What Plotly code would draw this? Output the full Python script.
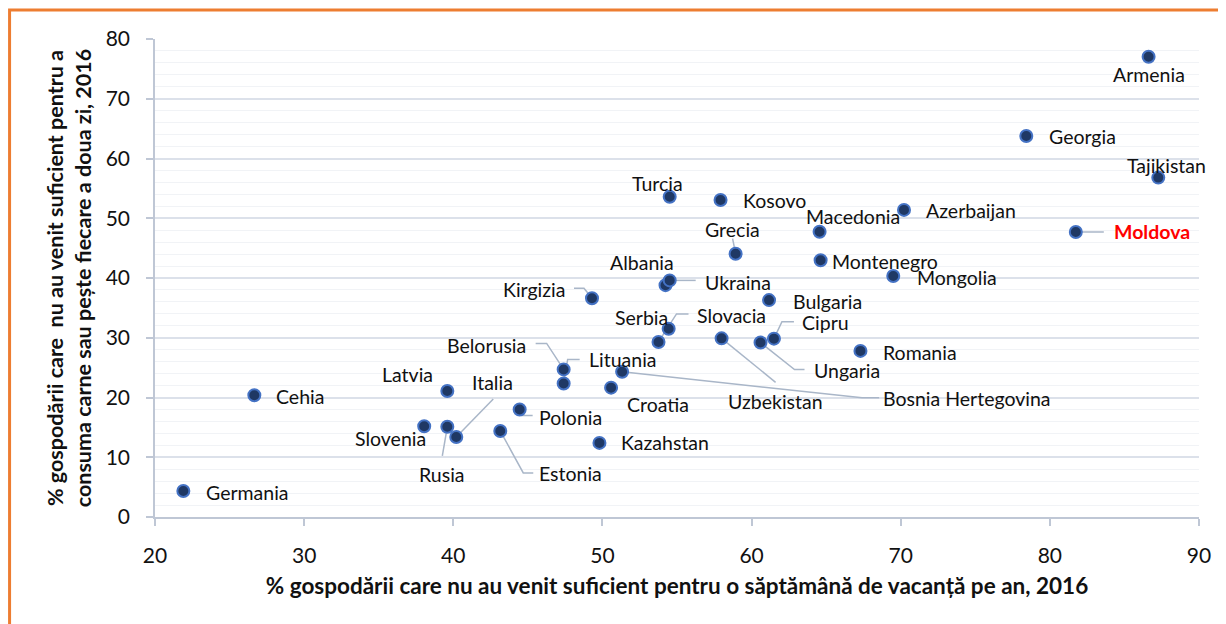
import plotly.graph_objects as go

countries = ["Germania", "Cehia", "Latvia", "Slovenia", "Rusia", "Italia", "Estonia",
             "Polonia", "Belorusia", "Lituania", "Croatia", "Bosnia Hertegovina",
             "Kazahstan", "Slovacia", "Serbia", "Uzbekistan", "Ungaria", "Cipru",
             "Bulgaria", "Kirgizia", "Albania", "Ukraina", "Grecia", "Turcia", "Kosovo",
             "Macedonia", "Montenegro", "Mongolia", "Azerbaijan", "Georgia", "Armenia",
             "Tajikistan", "Moldova", "Romania"]
vacation = [21.9, 26.66, 39.6, 38.05, 39.6, 40.2, 43.15,
            44.45, 47.4, 47.4, 50.58, 51.32,
            49.8, 53.76, 54.44, 57.99, 60.6, 61.5,
            61.17, 49.3, 54.23, 54.51, 58.93, 54.51, 57.92,
            64.56, 64.63, 69.5, 70.22, 78.42, 86.62,
            87.27, 81.74, 67.3]
meat = [4.35, 20.37, 21.1, 15.2, 15.1, 13.4, 14.4,
        18.0, 24.7, 22.35, 21.65, 24.3,
        12.4, 29.3, 31.5, 29.9, 29.2, 29.85,
        36.3, 36.6, 38.8, 39.6, 44.07, 53.6, 53.05,
        47.75, 42.96, 40.33, 51.4, 63.77, 77.04,
        56.8, 47.7, 27.8]

# label placement (pixel offsets of label centre from its point; y downwards)
label_offsets = {
    "Germania": (64, 1), "Cehia": (46, 1), "Latvia": (-40, -16), "Slovenia": (-34, 12),
    "Rusia": (-5, 48), "Italia": (36, -54), "Estonia": (70, 43), "Polonia": (51, 8),
    "Belorusia": (-77, -24), "Lituania": (59, -24), "Croatia": (47, 17),
    "Kazahstan": (66, 0), "Bosnia Hertegovina": (345, 27), "Uzbekistan": (54, 63),
    "Ungaria": (86, 28), "Cipru": (52, -16), "Slovacia": (73, -26), "Serbia": (-27, -11),
    "Romania": (60, 2), "Turcia": (-12, -13), "Kosovo": (54, 0), "Grecia": (-3, -24),
    "Albania": (-24, -23), "Ukraina": (68, 2), "Kirgizia": (-58, -9), "Bulgaria": (58, 1),
    "Macedonia": (33, -15), "Montenegro": (64, 1), "Mongolia": (64, 1),
    "Azerbaijan": (67, 1), "Georgia": (56, 1), "Armenia": (0, 18), "Tajikistan": (8, -12),
    "Moldova": (76, 0),
}
# leader-line polylines (pixel offsets from point; y downwards)
leaders = {
    "Rusia": [(-5, 29), (0, 0)],
    "Italia": [(37, -38), (0, 0)],
    "Estonia": [(33, 42), (23, 42), (0, 0)],
    "Polonia": [(13, 6), (2, 6), (0, 0)],
    "Belorusia": [(-28, -26), (-17, -26), (0, 0)],
    "Lituania": [(16, -24), (4, -24), (0, 0)],
    "Bosnia Hertegovina": [(257, 26), (240, 26), (0, 0)],
    "Uzbekistan": [(54, 44), (0, 0)],
    "Ungaria": [(44, 27), (34, 27), (0, 0)],
    "Cipru": [(20, -17), (8, -17), (0, 0)],
    "Slovacia": [(30, -28), (18, -28), (0, 0)],
    "Grecia": [(-3, -15), (0, 0)],
    "Ukraina": [(26, 0), (0, 0)],
    "Kirgizia": [(-18, -10), (-8, -10), (0, 0)],
    "Moldova": [(28, 0), (0, 0)],
}

x_title = "% gospodării care nu au venit suficient pentru o săptămână de vacanță pe an, 2016"
y_title = "% gospodării care  nu au venit suficient pentru a<br>consuma carne sau pește fiecare a doua zi, 2016"

FONT = "Lato, Carlito, Calibri, sans-serif"
AXIS_COLOR = "#BFC7D5"

fig = go.Figure()
fig.add_trace(go.Scatter(
    x=vacation, y=meat, mode="markers", text=countries, hoverinfo="text+x+y",
    marker=dict(size=12, color="#1F3864", line=dict(color="#4472C4", width=2)),
    showlegend=False, cliponaxis=False,
))

shapes = []
for name, pts in leaders.items():
    i = countries.index(name)
    path = "M " + " L ".join(f"{dx},{-dy}" for dx, dy in pts)
    shapes.append(dict(type="path", xref="x", yref="y", xsizemode="pixel", ysizemode="pixel",
                       xanchor=vacation[i], yanchor=meat[i], path=path, layer="between",
                       line=dict(color="#A9B6C8", width=1.5)))
# orange frame
shapes.append(dict(type="rect", xref="paper", yref="paper", x0=-0.1393, x1=1.06,
                   y0=-0.3, y1=1.0607, line=dict(color="#ED7D31", width=3),
                   fillcolor="rgba(0,0,0,0)", layer="above"))

annotations = []
for i, name in enumerate(countries):
    dx, dy = label_offsets[name]
    moldova = name == "Moldova"
    annotations.append(dict(
        x=vacation[i], y=meat[i], xref="x", yref="y", text=f"<b>{name}</b>" if moldova else name,
        showarrow=False, xshift=dx, yshift=-dy, xanchor="center", yanchor="middle",
        font=dict(family=FONT, size=19.5, color="#FF0000" if moldova else "#111111"),
    ))

fig.update_layout(
    width=1218, height=616,
    margin=dict(l=147, r=27, t=31, b=107),
    paper_bgcolor="white", plot_bgcolor="white",
    font=dict(family=FONT, size=18, color="#111111"),
    shapes=shapes, annotations=annotations,
    xaxis=dict(
        range=[20, 90], dtick=10, tick0=20, showgrid=False, zeroline=False,
        showline=True, linecolor=AXIS_COLOR, linewidth=1.5,
        ticks="outside", ticklen=7, tickcolor=AXIS_COLOR, tickwidth=1.5,
        ticklabelstandoff=12, tickfont=dict(size=21, color="#111111"),
        title=dict(text=f"<b>{x_title}</b>", font=dict(size=22.5, color="#111111"), standoff=12),
    ),
    yaxis=dict(
        range=[0, 80], dtick=10, showgrid=True, gridcolor="#DCE1EA", gridwidth=1.5,
        zeroline=False, showline=True, linecolor=AXIS_COLOR, linewidth=1.5,
        ticks="outside", ticklen=7, tickcolor=AXIS_COLOR, tickwidth=1.5,
        ticklabelstandoff=12, tickfont=dict(size=21, color="#111111"),
        minor=dict(dtick=2, showgrid=True, gridcolor="#F1F3F6", gridwidth=1),
        title=dict(text=f"<b>{y_title}</b>", font=dict(size=21.5, color="#111111"), standoff=8),
    ),
)

fig.write_html("out.html")
